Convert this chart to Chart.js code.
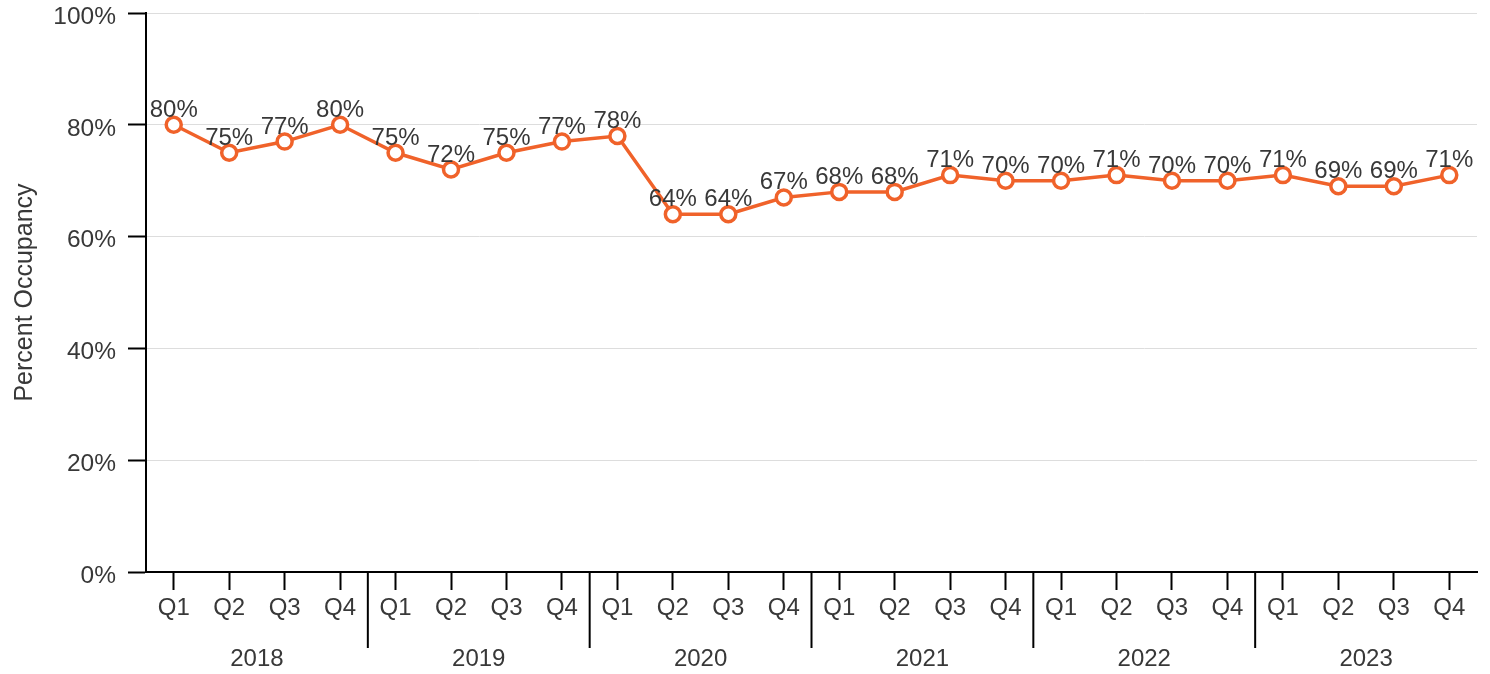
<!DOCTYPE html>
<html>
<head>
<meta charset="utf-8">
<script src="https://cdn.jsdelivr.net/npm/chart.js@4.4.0/dist/chart.umd.min.js"></script>
<style>
  html, body { margin: 0; padding: 0; background: #fff; }
  #wrap { width: 1490px; height: 674px; position: relative; }
</style>
</head>
<body>
<div id="wrap"><canvas id="c"></canvas></div>
<script>
const quarters = ["Q1","Q2","Q3","Q4","Q1","Q2","Q3","Q4","Q1","Q2","Q3","Q4","Q1","Q2","Q3","Q4","Q1","Q2","Q3","Q4","Q1","Q2","Q3","Q4"];
const years = ["2018","2019","2020","2021","2022","2023"];
const occupancy = [80,75,77,80, 75,72,75,77, 78,64,64,67, 68,68,71,70, 70,71,70,70, 71,69,69,71];
const yTicks = [0,20,40,60,80,100];

const ORANGE = '#F0622A';
const TEXT = '#383838';
const FONT = 'Liberation Sans, Arial, Helvetica, sans-serif';

const yearPlugin = {
  id: 'yearGroups',
  afterDraw(chart) {
    const ctx = chart.ctx;
    const x = chart.scales.x;
    const bottom = chart.chartArea.bottom;
    const perYear = quarters.length / years.length;
    ctx.save();
    ctx.strokeStyle = '#000';
    ctx.lineWidth = 2;
    ctx.fillStyle = TEXT;
    ctx.font = '24px ' + FONT;
    ctx.textAlign = 'center';
    ctx.textBaseline = 'middle';
    years.forEach((yr, i) => {
      const first = i * perYear, last = first + perYear - 1;
      const x0 = x.getPixelForValue(first), x1 = x.getPixelForValue(last);
      const step = x.getPixelForValue(1) - x.getPixelForValue(0);
      ctx.fillText(yr, (x0 + x1) / 2, bottom + 87);
      if (i > 0) {
        const sx = x0 - step / 2;
        ctx.beginPath();
        ctx.moveTo(sx, bottom);
        ctx.lineTo(sx, bottom + 76);
        ctx.stroke();
      }
    });
    ctx.restore();
  }
};

const labelPlugin = {
  id: 'pointLabels',
  afterDatasetsDraw(chart) {
    const ctx = chart.ctx;
    const meta = chart.getDatasetMeta(0);
    ctx.save();
    ctx.fillStyle = TEXT;
    ctx.font = '24px ' + FONT;
    ctx.textAlign = 'center';
    ctx.textBaseline = 'alphabetic';
    meta.data.forEach((pt, i) => {
      ctx.fillText(occupancy[i] + '%', pt.x, pt.y - 8);
    });
    ctx.restore();
  }
};

new Chart(document.getElementById('c'), {
  type: 'line',
  data: {
    labels: quarters,
    datasets: [{
      data: occupancy,
      borderColor: ORANGE,
      borderWidth: 3.5,
      backgroundColor: '#fff',
      pointBackgroundColor: '#fff',
      pointBorderColor: ORANGE,
      pointBorderWidth: 3.5,
      pointRadius: 7.5,
      tension: 0
    }]
  },
  options: {
    responsive: true,
    maintainAspectRatio: false,
    animation: false,
    layout: { padding: { top: 13, right: 13, left: 0, bottom: 0 } },
    plugins: { legend: { display: false }, tooltip: { enabled: false } },
    scales: {
      x: {
        type: 'category',
        offset: true,
        grid: { display: true, offset: false, drawOnChartArea: false, drawTicks: true, tickLength: 18, tickColor: '#000', tickWidth: 2 },
        border: { color: '#000', width: 2 },
        ticks: { color: TEXT, font: { size: 24, family: FONT }, padding: 4, maxRotation: 0, autoSkip: false },
        afterFit(s) { s.height = 102; s.paddingLeft = 0; s.paddingRight = 0; }
      },
      y: {
        min: 0, max: 100,
        afterBuildTicks(s) { s.ticks = yTicks.map(v => ({ value: v })); },
        grid: { color: '#dddddd', lineWidth: 1, drawTicks: true, tickLength: 18, tickColor: '#000', tickWidth: 2 },
        border: { color: '#000', width: 2 },
        ticks: { color: TEXT, font: { size: 24.5, family: FONT }, padding: 12, labelOffset: 4, callback: v => v + '%' },
        title: { display: true, text: 'Percent Occupancy', color: TEXT, font: { size: 25, family: FONT }, padding: { top: 10, bottom: 0 } },
        afterFit(s) { s.width = 146; s.paddingTop = 0; s.paddingBottom = 0; }
      }
    }
  },
  plugins: [yearPlugin, labelPlugin]
});
</script>
</body>
</html>
